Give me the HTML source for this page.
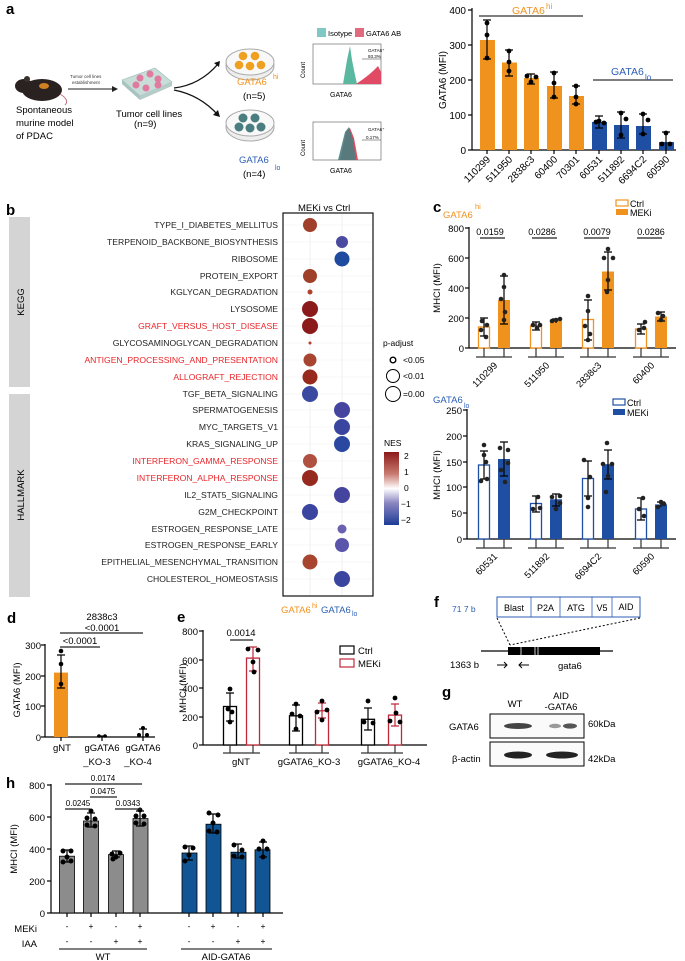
<!DOCTYPE html>
<html><head><meta charset="utf-8"><style>
html,body{margin:0;padding:0;background:#fff;}
svg{display:block;font-family:"Liberation Sans",Arial,sans-serif;}
</style></head><body>
<svg width="685" height="961" viewBox="0 0 685 961" xmlns="http://www.w3.org/2000/svg">
<!-- PANEL A -->
<text x="6" y="14" font-size="15" font-weight="bold">a</text>
<ellipse cx="42" cy="90" rx="20" ry="11" fill="#2a2220"/>
<ellipse cx="24" cy="86" rx="9" ry="7" fill="#2a2220"/>
<circle cx="27" cy="79" r="3" fill="#3a302c"/>
<path d="M60 94 Q70 100 65 105" stroke="#c07080" fill="none" stroke-width="1"/>
<ellipse cx="44" cy="86" rx="5" ry="3" fill="#d08020"/>
<text x="16" y="113" font-size="9.5">Spontaneous</text>
<text x="16" y="126" font-size="9.5">murine model</text>
<text x="16" y="139" font-size="9.5">of PDAC</text>
<text x="70" y="78" font-size="4.5" fill="#333">Tumor cell lines</text>
<text x="72" y="84" font-size="4.5" fill="#333">establishment</text>
<line x1="68" y1="89" x2="112" y2="89" stroke="#222" stroke-width="1"/>
<path d="M112 86 L118 89 L112 92Z" fill="#222"/>
<path d="M122 80 L155 68 L172 82 L140 96Z" fill="#c8dcd8" stroke="#9bb" stroke-width="0.6"/>
<path d="M122 80 L140 96 L140 100 L122 84Z" fill="#a9c4c0"/>
<path d="M140 96 L172 82 L172 86 L140 100Z" fill="#b5ccc8"/>
<circle cx="140" cy="78" r="3.5" fill="#e07aa0"/><circle cx="150" cy="74" r="3.5" fill="#e07aa0"/><circle cx="158" cy="79" r="3.5" fill="#e07aa0"/>
<circle cx="136" cy="85" r="3.5" fill="#e07aa0"/><circle cx="146" cy="88" r="3.5" fill="#e07aa0"/><circle cx="158" cy="85" r="3.5" fill="#e07aa0"/>
<text x="116" y="117" font-size="9.5">Tumor cell lines</text>
<text x="134" y="127" font-size="9.5">(n=9)</text>
<path d="M174 88 Q200 85 218 64" stroke="#111" fill="none" stroke-width="1.3"/>
<path d="M214 63 L220 61 L219 67Z" fill="#111"/>
<path d="M174 90 Q200 95 218 115" stroke="#111" fill="none" stroke-width="1.3"/>
<path d="M213 115 L220 117 L218 110Z" fill="#111"/>
<ellipse cx="250" cy="66" rx="24" ry="14" fill="#eee" stroke="#aaa"/>
<ellipse cx="250" cy="62" rx="24" ry="13" fill="#f8f8f8" stroke="#aaa"/>
<circle cx="243" cy="56" r="4.3" fill="#f0a020"/><circle cx="255" cy="56" r="4.3" fill="#f0a020"/>
<circle cx="239" cy="65" r="4.3" fill="#f0a020"/><circle cx="250" cy="66" r="4.3" fill="#f0a020"/><circle cx="261" cy="65" r="4.3" fill="#f0a020"/>
<text x="237" y="85" font-size="9.5" fill="#f0921e">GATA6</text><text x="273" y="79" font-size="7" fill="#f0921e">hi</text>
<text x="243" y="99" font-size="9.5">(n=5)</text>
<ellipse cx="250" cy="127" rx="24" ry="14" fill="#eee" stroke="#aaa"/>
<ellipse cx="250" cy="123" rx="24" ry="13" fill="#f8f8f8" stroke="#aaa"/>
<circle cx="243" cy="118" r="4.5" fill="#4a7d80"/><circle cx="255" cy="118" r="4.5" fill="#4a7d80"/>
<circle cx="239" cy="127" r="4.5" fill="#4a7d80"/><circle cx="250" cy="128" r="4.5" fill="#4a7d80"/><circle cx="261" cy="127" r="4.5" fill="#4a7d80"/>
<text x="239" y="163" font-size="9.5" fill="#2c5fb5">GATA6</text><text x="275" y="170" font-size="7" fill="#2c5fb5">lo</text>
<text x="243" y="177" font-size="9.5">(n=4)</text>
<rect x="317" y="28" width="9" height="9" fill="#7fc8c4"/><text x="328" y="36" font-size="7.5">Isotype</text>
<rect x="355" y="28" width="9" height="9" fill="#e06a7e"/><text x="366" y="36" font-size="7.5">GATA6 AB</text>
<rect x="313" y="44" width="68" height="40" fill="none" stroke="#555" stroke-width="0.6"/>
<path d="M343 84 L347 60 L350 46 L352 60 L355 75 L357 84Z" fill="#5ab8a0"/>
<path d="M356 84 Q370 75 378 66 L381 72 L381 84Z" fill="#e04a64"/>
<line x1="362" y1="59" x2="381" y2="59" stroke="#333" stroke-width="0.5"/>
<text x="368" y="52" font-size="4.5">GATA6⁺</text><text x="368" y="58" font-size="4.5">93.3%</text>
<text x="305" y="78" font-size="6" transform="rotate(-90 305 78)">Count</text>
<text x="330" y="97" font-size="7">GATA6</text>
<rect x="313" y="122" width="68" height="38" fill="none" stroke="#555" stroke-width="0.6"/>
<path d="M340 160 L346 132 L350 128 L354 138 L358 160Z" fill="#e04a64"/>
<path d="M338 160 L345 132 L349 127 L353 140 L356 160Z" fill="#4a8080" opacity="0.9"/>
<line x1="362" y1="140" x2="381" y2="140" stroke="#333" stroke-width="0.5"/>
<text x="368" y="131" font-size="4.5">GATA6⁺</text><text x="366" y="139" font-size="4.5">0.17%</text>
<text x="305" y="156" font-size="6" transform="rotate(-90 305 156)">Count</text>
<text x="330" y="173" font-size="7">GATA6</text>

<g font-size="10">
<line x1="472" y1="8" x2="472" y2="150" stroke="#000" stroke-width="1.2"/>
<line x1="472" y1="150" x2="676" y2="150" stroke="#000" stroke-width="1.2"/>
<g stroke="#000" stroke-width="1.2"><line x1="468" y1="10" x2="472" y2="10"/><line x1="468" y1="45" x2="472" y2="45"/><line x1="468" y1="80" x2="472" y2="80"/><line x1="468" y1="115" x2="472" y2="115"/><line x1="468" y1="150" x2="472" y2="150"/></g>
<g text-anchor="end"><text x="466" y="14">400</text><text x="466" y="49">300</text><text x="466" y="84">200</text><text x="466" y="119">100</text><text x="466" y="154">0</text></g>
<text x="446" y="80" text-anchor="middle" transform="rotate(-90 446 80)">GATA6 (MFI)</text>
<g fill="#f0921e"><rect x="480" y="40" width="15" height="110"/><rect x="502" y="62.5" width="15" height="87.5"/><rect x="524" y="78" width="15" height="72"/><rect x="547" y="86" width="15" height="64"/><rect x="569" y="96" width="15" height="54"/></g>
<g fill="#1f4fa3"><rect x="592" y="122" width="15" height="28"/><rect x="614" y="125" width="15" height="25"/><rect x="636" y="126" width="15" height="24"/><rect x="659" y="142" width="15" height="8"/></g>
<g stroke="#000" stroke-width="1.2" fill="none">
<path d="M487 20v39M483 20h8M483 59h8"/><path d="M509 50v26M505 50h8M505 76h8"/><path d="M531 74v10M527 74h8M527 84h8"/><path d="M554 72v26M550 72h8M550 98h8"/><path d="M576 86v18M572 86h8M572 104h8"/>
<path d="M599 116v12M595 116h8M595 128h8"/><path d="M621 112v26M617 112h8M617 138h8"/><path d="M643 114v20M639 114h8M639 134h8"/><path d="M666 132v18M662 132h8"/>
</g>
<g fill="#000"><circle cx="487" cy="23" r="2.4"/><circle cx="487" cy="35" r="2.4"/><circle cx="487" cy="58" r="2.4"/><circle cx="509" cy="51" r="2.4"/><circle cx="509" cy="62" r="2.4"/><circle cx="509" cy="71" r="2.4"/><circle cx="527" cy="76" r="2.4"/><circle cx="531" cy="82" r="2.4"/><circle cx="536" cy="77" r="2.4"/><circle cx="554" cy="73" r="2.4"/><circle cx="554" cy="83" r="2.4"/><circle cx="554" cy="97" r="2.4"/><circle cx="576" cy="86" r="2.4"/><circle cx="576" cy="97" r="2.4"/><circle cx="576" cy="104" r="2.4"/><circle cx="596" cy="122" r="2.4"/><circle cx="604" cy="123" r="2.4"/><circle cx="599" cy="121" r="2.4"/><circle cx="621" cy="113" r="2.4"/><circle cx="626" cy="119" r="2.4"/><circle cx="621" cy="135" r="2.4"/><circle cx="643" cy="114" r="2.4"/><circle cx="648" cy="120" r="2.4"/><circle cx="643" cy="134" r="2.4"/><circle cx="666" cy="133" r="2.4"/><circle cx="662" cy="144" r="2.4"/><circle cx="670" cy="144" r="2.4"/></g>
<g stroke="#000" stroke-width="1.2"><line x1="487" y1="150" x2="487" y2="154"/><line x1="509" y1="150" x2="509" y2="154"/><line x1="531" y1="150" x2="531" y2="154"/><line x1="554" y1="150" x2="554" y2="154"/><line x1="576" y1="150" x2="576" y2="154"/><line x1="599" y1="150" x2="599" y2="154"/><line x1="621" y1="150" x2="621" y2="154"/><line x1="643" y1="150" x2="643" y2="154"/><line x1="666" y1="150" x2="666" y2="154"/></g>
<g text-anchor="end">
<text x="491" y="160" transform="rotate(-45 491 160)">110299</text><text x="513" y="160" transform="rotate(-45 513 160)">511950</text><text x="535" y="160" transform="rotate(-45 535 160)">2838c3</text><text x="558" y="160" transform="rotate(-45 558 160)">60400</text><text x="580" y="160" transform="rotate(-45 580 160)">70301</text><text x="603" y="160" transform="rotate(-45 603 160)">60531</text><text x="625" y="160" transform="rotate(-45 625 160)">511892</text><text x="647" y="160" transform="rotate(-45 647 160)">6694C2</text><text x="670" y="160" transform="rotate(-45 670 160)">60590</text>
</g>
<line x1="479" y1="16" x2="583" y2="16" stroke="#333" stroke-width="1.2"/>
<text x="512" y="14" fill="#f0921e" font-size="10.5">GATA6</text><text x="546" y="9" fill="#f0921e" font-size="8">hi</text>
<line x1="593" y1="80" x2="673" y2="80" stroke="#333" stroke-width="1.2"/>
<text x="611" y="75" fill="#2c5fb5" font-size="10.5">GATA6</text><text x="645" y="80" fill="#2c5fb5" font-size="8">lo</text>
</g>

<!-- PANEL B -->
<text x="6" y="215" font-size="15" font-weight="bold">b</text>
<text x="298" y="211" font-size="9.5">MEKi vs Ctrl</text>
<rect x="9" y="217" width="21" height="170" fill="#d4d4d4"/>
<rect x="9" y="394" width="21" height="203" fill="#d4d4d4"/>
<text x="24" y="302" font-size="9.5" text-anchor="middle" transform="rotate(-90 24 302)">KEGG</text>
<text x="24" y="495" font-size="9.5" text-anchor="middle" transform="rotate(-90 24 495)">HALLMARK</text>
<g stroke="#ebebeb" stroke-width="0.8">
<line x1="310" y1="214" x2="310" y2="595"/><line x1="342" y1="214" x2="342" y2="595"/>
</g>
<g stroke="#efefef" stroke-width="0.6">
<line x1="283" y1="225" x2="373" y2="225"/><line x1="283" y1="242" x2="373" y2="242"/><line x1="283" y1="259" x2="373" y2="259"/><line x1="283" y1="276" x2="373" y2="276"/><line x1="283" y1="292" x2="373" y2="292"/><line x1="283" y1="309" x2="373" y2="309"/><line x1="283" y1="326" x2="373" y2="326"/><line x1="283" y1="343" x2="373" y2="343"/><line x1="283" y1="360" x2="373" y2="360"/><line x1="283" y1="377" x2="373" y2="377"/><line x1="283" y1="394" x2="373" y2="394"/><line x1="283" y1="410" x2="373" y2="410"/><line x1="283" y1="427" x2="373" y2="427"/><line x1="283" y1="444" x2="373" y2="444"/><line x1="283" y1="461" x2="373" y2="461"/><line x1="283" y1="478" x2="373" y2="478"/><line x1="283" y1="495" x2="373" y2="495"/><line x1="283" y1="512" x2="373" y2="512"/><line x1="283" y1="529" x2="373" y2="529"/><line x1="283" y1="545" x2="373" y2="545"/><line x1="283" y1="562" x2="373" y2="562"/><line x1="283" y1="579" x2="373" y2="579"/>
</g>
<rect x="283" y="213" width="90" height="383" fill="none" stroke="#111" stroke-width="1.2"/>
<g font-size="8.6" text-anchor="end" fill="#222">
<text x="278" y="228">TYPE_I_DIABETES_MELLITUS</text>
<text x="278" y="245">TERPENOID_BACKBONE_BIOSYNTHESIS</text>
<text x="278" y="262">RIBOSOME</text>
<text x="278" y="279">PROTEIN_EXPORT</text>
<text x="278" y="295">KGLYCAN_DEGRADATION</text>
<text x="278" y="312">LYSOSOME</text>
<text x="278" y="329" fill="#e8262a">GRAFT_VERSUS_HOST_DISEASE</text>
<text x="278" y="346">GLYCOSAMINOGLYCAN_DEGRADATION</text>
<text x="278" y="363" fill="#e8262a">ANTIGEN_PROCESSING_AND_PRESENTATION</text>
<text x="278" y="380" fill="#e8262a">ALLOGRAFT_REJECTION</text>
<text x="278" y="397">TGF_BETA_SIGNALING</text>
<text x="278" y="413">SPERMATOGENESIS</text>
<text x="278" y="430">MYC_TARGETS_V1</text>
<text x="278" y="447">KRAS_SIGNALING_UP</text>
<text x="278" y="464" fill="#e8262a">INTERFERON_GAMMA_RESPONSE</text>
<text x="278" y="481" fill="#e8262a">INTERFERON_ALPHA_RESPONSE</text>
<text x="278" y="498">IL2_STAT5_SIGNALING</text>
<text x="278" y="515">G2M_CHECKPOINT</text>
<text x="278" y="532">ESTROGEN_RESPONSE_LATE</text>
<text x="278" y="548">ESTROGEN_RESPONSE_EARLY</text>
<text x="278" y="565">EPITHELIAL_MESENCHYMAL_TRANSITION</text>
<text x="278" y="582">CHOLESTEROL_HOMEOSTASIS</text>
</g>
<circle cx="310" cy="225" r="7" fill="#a0402a"/>
<circle cx="342" cy="242" r="6" fill="#4a4aa0"/>
<circle cx="342" cy="259" r="7.5" fill="#1e4aa0"/>
<circle cx="310" cy="276" r="7" fill="#a0402a"/>
<circle cx="310" cy="292" r="2.5" fill="#b04030"/>
<circle cx="310" cy="309" r="8" fill="#8b1a1a"/>
<circle cx="310" cy="326" r="8" fill="#8b1a1a"/>
<circle cx="310" cy="343" r="1.5" fill="#b04030"/>
<circle cx="310" cy="360" r="6.5" fill="#a84530"/>
<circle cx="310" cy="377" r="7.5" fill="#962a1e"/>
<circle cx="310" cy="394" r="8" fill="#3a4aa0"/>
<circle cx="342" cy="410" r="8" fill="#4545a0"/>
<circle cx="342" cy="427" r="8" fill="#3a45a0"/>
<circle cx="342" cy="444" r="8" fill="#2a48a0"/>
<circle cx="310" cy="461" r="7" fill="#b05040"/>
<circle cx="310" cy="478" r="8" fill="#962a1e"/>
<circle cx="342" cy="495" r="8" fill="#4545a0"/>
<circle cx="310" cy="512" r="8" fill="#3a45a0"/>
<circle cx="342" cy="529" r="4.5" fill="#6a60b0"/>
<circle cx="342" cy="545" r="7" fill="#5a55aa"/>
<circle cx="310" cy="562" r="7.5" fill="#a84530"/>
<circle cx="342" cy="579" r="8" fill="#3a45a0"/>
<text x="281" y="613" font-size="9.5" fill="#f0921e">GATA6</text><text x="312" y="608" font-size="7" fill="#f0921e">hi</text>
<text x="321" y="613" font-size="9.5" fill="#2c5fb5">GATA6</text><text x="352" y="616" font-size="7" fill="#2c5fb5">lo</text>
<text x="383" y="346" font-size="8.5">p-adjust</text>
<circle cx="393" cy="360" r="2.8" fill="none" stroke="#000" stroke-width="1.4"/><text x="403" y="363" font-size="8.5">&lt;0.05</text>
<circle cx="393" cy="376" r="6.5" fill="none" stroke="#000" stroke-width="1"/><text x="403" y="379" font-size="8.5">&lt;0.01</text>
<circle cx="393" cy="394" r="7.5" fill="none" stroke="#000" stroke-width="1"/><text x="403" y="397" font-size="8.5">=0.00</text>
<text x="384" y="446" font-size="8.5">NES</text>
<defs><linearGradient id="nes" x1="0" y1="0" x2="0" y2="1">
<stop offset="0" stop-color="#8b1a1a"/><stop offset="0.3" stop-color="#c87a70"/><stop offset="0.5" stop-color="#ffffff"/><stop offset="0.7" stop-color="#8a85c0"/><stop offset="1" stop-color="#1e3c96"/></linearGradient></defs>
<rect x="384" y="452" width="15" height="73" fill="url(#nes)"/>
<g font-size="8.5"><text x="404" y="459">2</text><text x="404" y="475">1</text><text x="404" y="491">0</text><text x="401" y="507">−1</text><text x="401" y="523">−2</text></g>

<!-- PANEL C top -->
<text x="433" y="212" font-size="15" font-weight="bold">c</text>
<text x="443" y="218" font-size="9.5" fill="#f0921e">GATA6</text><text x="475" y="209" font-size="7.5" fill="#f0921e">hi</text>
<rect x="616" y="200" width="12" height="6" fill="none" stroke="#f0921e" stroke-width="1.2"/><text x="630" y="207" font-size="9">Ctrl</text>
<rect x="616" y="209" width="12" height="6" fill="#f0921e"/><text x="630" y="216" font-size="9">MEKi</text>
<g font-size="9.5">
<line x1="469" y1="227" x2="469" y2="348" stroke="#000" stroke-width="1.2"/>
<line x1="469" y1="348" x2="676" y2="348" stroke="#000" stroke-width="1.2"/>
<g stroke="#000" stroke-width="1.2"><line x1="465" y1="228" x2="469" y2="228"/><line x1="465" y1="258" x2="469" y2="258"/><line x1="465" y1="288" x2="469" y2="288"/><line x1="465" y1="318" x2="469" y2="318"/><line x1="465" y1="348" x2="469" y2="348"/></g>
<g text-anchor="end"><text x="464" y="232">800</text><text x="464" y="262">600</text><text x="464" y="292">400</text><text x="464" y="322">200</text><text x="464" y="352">0</text></g>
<text x="440" y="288" text-anchor="middle" transform="rotate(-90 440 288)">MHCI (MFI)</text>
<g fill="#fff" stroke="#f0921e" stroke-width="1.3"><rect x="478.5" y="327" width="11" height="21"/><rect x="530.5" y="326" width="11" height="22"/><rect x="582.5" y="319.5" width="11" height="28.5"/><rect x="635.5" y="329" width="11" height="19"/></g>
<g fill="#f0921e"><rect x="498" y="300" width="12" height="48"/><rect x="550" y="321" width="12" height="27"/><rect x="602" y="271.5" width="12" height="76.5"/><rect x="655" y="316.5" width="12" height="31.5"/></g>
<g stroke="#000" stroke-width="1.2" fill="none">
<path d="M484 318v18M480 318h8M480 336h8"/><path d="M504 276v48M500 276h8M500 324h8"/><path d="M536 322v8M532 322h8M532 330h8"/><path d="M556 319v4M552 319h8"/><path d="M588 300v40M584 300h8M584 340h8"/><path d="M608 252v38M604 252h8M604 290h8"/><path d="M641 324v10M637 324h8M637 334h8"/><path d="M661 312v9M657 312h8M657 321h8"/>
</g>
<g fill="#222"><circle cx="482" cy="321" r="2.3"/><circle cx="487" cy="325" r="2.3"/><circle cx="481" cy="330" r="2.3"/><circle cx="486" cy="337" r="2.3"/><circle cx="504" cy="275" r="2.3"/><circle cx="504" cy="287" r="2.3"/><circle cx="501" cy="299" r="2.3"/><circle cx="505" cy="312" r="2.3"/><circle cx="504" cy="320" r="2.3"/><circle cx="533" cy="325" r="2.3"/><circle cx="537" cy="328" r="2.3"/><circle cx="540" cy="325" r="2.3"/><circle cx="552" cy="321" r="2.3"/><circle cx="556" cy="320" r="2.3"/><circle cx="560" cy="319" r="2.3"/><circle cx="588" cy="296" r="2.3"/><circle cx="588" cy="311" r="2.3"/><circle cx="585" cy="326" r="2.3"/><circle cx="590" cy="334" r="2.3"/><circle cx="588" cy="340" r="2.3"/><circle cx="608" cy="249" r="2.3"/><circle cx="613" cy="258" r="2.3"/><circle cx="604" cy="258" r="2.3"/><circle cx="608" cy="280" r="2.3"/><circle cx="607" cy="292" r="2.3"/><circle cx="639" cy="330" r="2.3"/><circle cx="644" cy="328" r="2.3"/><circle cx="645" cy="322" r="2.3"/><circle cx="658" cy="313" r="2.3"/><circle cx="663" cy="316" r="2.3"/><circle cx="661" cy="320" r="2.3"/></g>
<g stroke="#222" stroke-width="1.2"><line x1="480" y1="238" x2="505" y2="238"/><line x1="532" y1="238" x2="557" y2="238"/><line x1="584" y1="238" x2="609" y2="238"/><line x1="637" y1="238" x2="662" y2="238"/></g>
<g font-size="9" text-anchor="middle"><text x="490" y="235">0.0159</text><text x="542" y="235">0.0286</text><text x="597" y="235">0.0079</text><text x="651" y="235">0.0286</text></g>
<g stroke="#333" stroke-width="1.2"><path d="M476 357h36M484 348v9M504 348v9"/><path d="M528 357h36M536 348v9M556 348v9"/><path d="M580 357h36M588 348v9M608 348v9"/><path d="M633 357h36M641 348v9M661 348v9"/></g>
<g text-anchor="end"><text x="498" y="366" transform="rotate(-45 498 366)">110299</text><text x="550" y="366" transform="rotate(-45 550 366)">511950</text><text x="602" y="366" transform="rotate(-45 602 366)">2838c3</text><text x="655" y="366" transform="rotate(-45 655 366)">60400</text></g>
</g>

<!-- PANEL C bottom -->
<text x="433" y="403" font-size="9.5" fill="#2c5fb5">GATA6</text><text x="464" y="408" font-size="7" fill="#2c5fb5">lo</text>
<rect x="613" y="399" width="12" height="6" fill="none" stroke="#1f4fa3" stroke-width="1.2"/><text x="627" y="406" font-size="9">Ctrl</text>
<rect x="613" y="409" width="12" height="6" fill="#1f4fa3"/><text x="627" y="416" font-size="9">MEKi</text>
<g font-size="9.5">
<line x1="467" y1="409" x2="467" y2="539" stroke="#000" stroke-width="1.2"/>
<line x1="467" y1="539" x2="676" y2="539" stroke="#000" stroke-width="1.2"/>
<g stroke="#000" stroke-width="1.2"><line x1="463" y1="410" x2="467" y2="410"/><line x1="463" y1="436" x2="467" y2="436"/><line x1="463" y1="462" x2="467" y2="462"/><line x1="463" y1="487" x2="467" y2="487"/><line x1="463" y1="513" x2="467" y2="513"/><line x1="463" y1="539" x2="467" y2="539"/></g>
<g text-anchor="end"><text x="462" y="414">250</text><text x="462" y="440">200</text><text x="462" y="466">150</text><text x="462" y="491">100</text><text x="462" y="517">50</text><text x="462" y="543">0</text></g>
<text x="440" y="475" text-anchor="middle" transform="rotate(-90 440 475)">MHCI (MFI)</text>
<g fill="#fff" stroke="#1f4fa3" stroke-width="1.3"><rect x="478.5" y="465" width="11" height="74"/><rect x="530.5" y="503.5" width="11" height="35.5"/><rect x="582.5" y="478.5" width="11" height="60.5"/><rect x="635.5" y="509" width="11" height="30"/></g>
<g fill="#1f4fa3"><rect x="498" y="459" width="12" height="80"/><rect x="550" y="499.3" width="12" height="39.7"/><rect x="602" y="464.2" width="12" height="74.8"/><rect x="655" y="504.4" width="12" height="34.6"/></g>
<g stroke="#000" stroke-width="1.2" fill="none">
<path d="M484 451v28M480 451h8M480 479h8"/><path d="M504 442v34M500 442h8M500 476h8"/><path d="M536 496v16M532 496h8M532 512h8"/><path d="M556 494v12M552 494h8M552 506h8"/><path d="M588 461v35M584 461h8M584 496h8"/><path d="M608 450v29M604 450h8M604 479h8"/><path d="M641 498v22M637 498h8M637 520h8"/><path d="M661 502v5M657 502h8"/></g>
<g fill="#222"><circle cx="484" cy="445" r="2.3"/><circle cx="484" cy="455" r="2.3"/><circle cx="486" cy="462" r="2.3"/><circle cx="481" cy="481" r="2.3"/><circle cx="487" cy="479" r="2.3"/><circle cx="500" cy="448" r="2.3"/><circle cx="508" cy="450" r="2.3"/><circle cx="508" cy="463" r="2.3"/><circle cx="501" cy="470" r="2.3"/><circle cx="505" cy="482" r="2.3"/><circle cx="533" cy="509" r="2.3"/><circle cx="538" cy="497" r="2.3"/><circle cx="540" cy="508" r="2.3"/><circle cx="552" cy="497" r="2.3"/><circle cx="560" cy="496" r="2.3"/><circle cx="560" cy="503" r="2.3"/><circle cx="556" cy="509" r="2.3"/><circle cx="584" cy="460" r="2.3"/><circle cx="590" cy="477" r="2.3"/><circle cx="588" cy="498" r="2.3"/><circle cx="588" cy="507" r="2.3"/><circle cx="607" cy="443" r="2.3"/><circle cx="603" cy="464" r="2.3"/><circle cx="612" cy="464" r="2.3"/><circle cx="608" cy="476" r="2.3"/><circle cx="606" cy="492" r="2.3"/><circle cx="639" cy="509" r="2.3"/><circle cx="643" cy="498" r="2.3"/><circle cx="644" cy="516" r="2.3"/><circle cx="658" cy="507" r="2.3"/><circle cx="664" cy="504" r="2.3"/><circle cx="661" cy="502" r="2.3"/></g>
<g stroke="#333" stroke-width="1.2"><path d="M476 548h36M484 539v9M504 539v9"/><path d="M528 548h36M536 539v9M556 539v9"/><path d="M580 548h36M588 539v9M608 539v9"/><path d="M633 548h36M641 539v9M661 539v9"/></g>
<g text-anchor="end"><text x="498" y="557" transform="rotate(-45 498 557)">60531</text><text x="550" y="557" transform="rotate(-45 550 557)">511892</text><text x="602" y="557" transform="rotate(-45 602 557)">6694C2</text><text x="655" y="557" transform="rotate(-45 655 557)">60590</text></g>
</g>

<!-- PANEL D -->
<text x="7" y="623" font-size="15" font-weight="bold">d</text>
<g font-size="9.5">
<line x1="45" y1="644" x2="45" y2="737" stroke="#000" stroke-width="1.2"/>
<line x1="45" y1="737" x2="155" y2="737" stroke="#000" stroke-width="1.2"/>
<g stroke="#000" stroke-width="1.2"><line x1="41" y1="645" x2="45" y2="645"/><line x1="41" y1="676" x2="45" y2="676"/><line x1="41" y1="706" x2="45" y2="706"/><line x1="41" y1="737" x2="45" y2="737"/></g>
<g text-anchor="end"><text x="41" y="649">300</text><text x="41" y="680">200</text><text x="41" y="710">100</text><text x="41" y="741">0</text></g>
<text x="20" y="690" text-anchor="middle" transform="rotate(-90 20 690)">GATA6 (MFI)</text>
<rect x="54" y="672.6" width="14" height="64.4" fill="#f0921e"/>
<path d="M61 655v33M57 655h8M57 688h8" stroke="#000" stroke-width="1.2" fill="none"/>
<circle cx="61" cy="651" r="2.3"/><circle cx="61" cy="664" r="2.3"/><circle cx="61" cy="684" r="2.3"/>
<path d="M97 736h10" stroke="#000" stroke-width="1.2"/><circle cx="99" cy="736" r="1.7"/><circle cx="105" cy="736" r="1.7"/>
<path d="M143 729v8M139 729h8" stroke="#000" stroke-width="1.2" fill="none"/><circle cx="139" cy="735" r="2"/><circle cx="147" cy="735" r="2"/><circle cx="143" cy="728" r="2"/>
<g stroke="#000" stroke-width="1.2"><line x1="61" y1="737" x2="61" y2="741"/><line x1="102" y1="737" x2="102" y2="741"/><line x1="143" y1="737" x2="143" y2="741"/></g>
<g text-anchor="middle"><text x="62" y="751">gNT</text><text x="102" y="751">gGATA6</text><text x="97" y="765">_KO-3</text><text x="143" y="751">gGATA6</text><text x="138" y="765">_KO-4</text></g>
<line x1="60" y1="647" x2="100" y2="647" stroke="#222" stroke-width="1.2"/>
<text x="80" y="644" text-anchor="middle">&lt;0.0001</text>
<line x1="60" y1="633" x2="143" y2="633" stroke="#222" stroke-width="1.2"/>
<text x="102" y="631" text-anchor="middle">&lt;0.0001</text>
<text x="102" y="620" text-anchor="middle">2838c3</text>
</g>

<!-- PANEL E -->
<text x="177" y="622" font-size="15" font-weight="bold">e</text>
<g font-size="9.5">
<line x1="203" y1="630" x2="203" y2="745" stroke="#000" stroke-width="1.2"/>
<line x1="203" y1="745" x2="427" y2="745" stroke="#000" stroke-width="1.2"/>
<g stroke="#000" stroke-width="1.2"><line x1="199" y1="631" x2="203" y2="631"/><line x1="199" y1="660" x2="203" y2="660"/><line x1="199" y1="688" x2="203" y2="688"/><line x1="199" y1="717" x2="203" y2="717"/><line x1="199" y1="745" x2="203" y2="745"/></g>
<g text-anchor="end"><text x="198" y="635">800</text><text x="198" y="664">600</text><text x="198" y="692">400</text><text x="198" y="721">200</text><text x="198" y="749">0</text></g>
<text x="186" y="688" text-anchor="middle" transform="rotate(-90 186 688)">MHCI (MFI)</text>
<g fill="#fff" stroke="#000" stroke-width="1.3"><rect x="223.5" y="706.5" width="13" height="38.5"/><rect x="289.5" y="715.8" width="13" height="29.2"/><rect x="361.5" y="719.3" width="13" height="25.7"/></g>
<g fill="#fff" stroke="#c0283a" stroke-width="1.3"><rect x="246.5" y="658.1" width="13" height="86.9"/><rect x="315.5" y="710.8" width="13" height="34.2"/><rect x="388.5" y="715.1" width="13" height="29.9"/></g>
<g stroke="#000" stroke-width="1.2" fill="none"><path d="M230 693v28M226 693h8M226 721h8"/><path d="M296 705v26M292 705h8M292 731h8"/><path d="M368 708v22M364 708h8M364 730h8"/></g>
<g stroke="#c0283a" stroke-width="1.2" fill="none"><path d="M253 647v24M249 647h8M249 671h8"/><path d="M322 703v15M318 703h8M318 718h8"/><path d="M395 704v22M391 704h8M391 726h8"/></g>
<g fill="#000"><circle cx="230" cy="689" r="2.4"/><circle cx="228" cy="709" r="2.4"/><circle cx="232" cy="712" r="2.4"/><circle cx="230" cy="722" r="2.4"/><circle cx="248" cy="649" r="2.4"/><circle cx="258" cy="650" r="2.4"/><circle cx="253" cy="662" r="2.4"/><circle cx="254" cy="672" r="2.4"/><circle cx="296" cy="704" r="2.4"/><circle cx="292" cy="714" r="2.4"/><circle cx="300" cy="716" r="2.4"/><circle cx="296" cy="729" r="2.4"/><circle cx="322" cy="701" r="2.4"/><circle cx="317" cy="712" r="2.4"/><circle cx="327" cy="710" r="2.4"/><circle cx="322" cy="720" r="2.4"/><circle cx="368" cy="701" r="2.4"/><circle cx="364" cy="722" r="2.4"/><circle cx="373" cy="723" r="2.4"/><circle cx="395" cy="698" r="2.4"/><circle cx="390" cy="721" r="2.4"/><circle cx="400" cy="722" r="2.4"/><circle cx="396" cy="713" r="2.4"/></g>
<line x1="230" y1="640" x2="253" y2="640" stroke="#222" stroke-width="1.2"/>
<text x="241" y="636" text-anchor="middle">0.0014</text>
<rect x="340" y="646" width="14" height="8" fill="none" stroke="#000" stroke-width="1.2"/><text x="358" y="654">Ctrl</text>
<rect x="340" y="659" width="14" height="8" fill="none" stroke="#c0283a" stroke-width="1.2"/><text x="358" y="667">MEKi</text>
<g stroke="#333" stroke-width="1.2"><path d="M223 753h37M230 745v8M253 745v8"/><path d="M289 753h40M296 745v8M322 745v8"/><path d="M361 753h42M368 745v8M395 745v8"/></g>
<g text-anchor="middle"><text x="241" y="765">gNT</text><text x="309" y="765">gGATA6_KO-3</text><text x="389" y="765">gGATA6_KO-4</text></g>
</g>

<!-- PANEL F -->
<text x="434" y="607" font-size="15" font-weight="bold">f</text>
<text x="452" y="612" font-size="8.5" fill="#2c5fb5">71 7 b</text>
<rect x="497" y="597" width="143" height="20" fill="#fff" stroke="#2c5fb5" stroke-width="1"/>
<g stroke="#2c5fb5" stroke-width="0.8"><line x1="531" y1="597" x2="531" y2="617"/><line x1="560" y1="597" x2="560" y2="617"/><line x1="592" y1="597" x2="592" y2="617"/><line x1="612" y1="597" x2="612" y2="617"/></g>
<g font-size="9" text-anchor="middle"><text x="514" y="611">Blast</text><text x="545.5" y="611">P2A</text><text x="576" y="611">ATG</text><text x="602" y="611">V5</text><text x="626" y="610">AID</text></g>
<g stroke="#000" stroke-width="1" stroke-dasharray="2,2"><line x1="497" y1="618" x2="510" y2="645"/><line x1="640" y1="618" x2="510" y2="645"/></g>
<line x1="481" y1="651" x2="613" y2="651" stroke="#000" stroke-width="1.2"/>
<rect x="508" y="647" width="92" height="8" fill="#000"/>
<g stroke="#fff" stroke-width="0.8"><line x1="521" y1="647" x2="521" y2="655"/><line x1="535" y1="647" x2="535" y2="655"/><line x1="538" y1="647" x2="538" y2="655"/></g>
<text x="450" y="668" font-size="9.5">1363 b</text>
<path d="M497 665h10M504 662l3 3l-3 3" stroke="#000" fill="none"/>
<path d="M519 665h10M522 662l-3 3l3 3" stroke="#000" fill="none"/>
<text x="558" y="669" font-size="9.5">gata6</text>

<!-- PANEL G -->
<text x="442" y="697" font-size="15" font-weight="bold">g</text>
<text x="515" y="707" font-size="9.5" text-anchor="middle">WT</text>
<text x="561" y="699" font-size="9.5" text-anchor="middle">AID</text>
<text x="561" y="710" font-size="9.5" text-anchor="middle">-GATA6</text>
<rect x="490" y="714" width="94" height="24" fill="#fafafa" stroke="#000" stroke-width="1"/>
<ellipse cx="518" cy="726" rx="14" ry="3" fill="#444"/>
<ellipse cx="555" cy="726" rx="6" ry="2.2" fill="#999"/><ellipse cx="570" cy="726" rx="7" ry="2.6" fill="#555"/>
<rect x="490" y="742" width="94" height="24" fill="#fafafa" stroke="#000" stroke-width="1"/>
<ellipse cx="518" cy="755" rx="14" ry="3.5" fill="#222"/><ellipse cx="562" cy="755" rx="16" ry="3.5" fill="#222"/>
<text x="449" y="730" font-size="9.5">GATA6</text>
<text x="452" y="762" font-size="9.5">β-actin</text>
<text x="588" y="727" font-size="9.5">60kDa</text>
<text x="588" y="762" font-size="9.5">42kDa</text>

<!-- PANEL H -->
<text x="6" y="788" font-size="15" font-weight="bold">h</text>
<g font-size="9.5">
<line x1="51" y1="784" x2="51" y2="913" stroke="#000" stroke-width="1.2"/>
<line x1="51" y1="913" x2="283" y2="913" stroke="#000" stroke-width="1.2"/>
<g stroke="#000" stroke-width="1.2"><line x1="47" y1="785" x2="51" y2="785"/><line x1="47" y1="817" x2="51" y2="817"/><line x1="47" y1="849" x2="51" y2="849"/><line x1="47" y1="881" x2="51" y2="881"/><line x1="47" y1="913" x2="51" y2="913"/></g>
<g text-anchor="end"><text x="45" y="789">800</text><text x="45" y="821">600</text><text x="45" y="853">400</text><text x="45" y="885">200</text><text x="45" y="917">0</text></g>
<text x="17" y="849" text-anchor="middle" transform="rotate(-90 17 849)">MHCI (MFI)</text>
<g fill="#8c8c8c" stroke="#000" stroke-width="0.8"><rect x="59.5" y="856.2" width="15" height="56.8"/><rect x="83.5" y="821" width="15" height="92"/><rect x="108.5" y="854.6" width="15" height="58.4"/><rect x="133" y="818.6" width="15" height="94.4"/></g>
<g fill="#125594" stroke="#000" stroke-width="0.8"><rect x="182" y="853" width="15" height="60"/><rect x="206" y="824.2" width="15" height="88.8"/><rect x="231" y="852.2" width="15" height="60.8"/><rect x="255" y="849.8" width="15" height="63.2"/></g>
<g stroke="#000" stroke-width="1.2" fill="none"><path d="M67 850v12M63 850h8M63 862h8"/><path d="M91 813v14M87 813h8M87 827h8"/><path d="M116 851v6M112 851h8M112 857h8"/><path d="M140 811v15M136 811h8M136 826h8"/><path d="M189 846v14M185 846h8M185 860h8"/><path d="M213 814v19M209 814h8M209 833h8"/><path d="M238 844v14M234 844h8M234 858h8"/><path d="M263 842v15M259 842h8M259 857h8"/></g>
<g fill="#000">
<circle cx="63" cy="851" r="2.5"/><circle cx="71" cy="851" r="2.5"/><circle cx="67" cy="857" r="2.5"/><circle cx="63" cy="862" r="2.5"/><circle cx="71" cy="861" r="2.5"/>
<circle cx="91" cy="811" r="2.5"/><circle cx="87" cy="818" r="2.5"/><circle cx="95" cy="819" r="2.5"/><circle cx="87" cy="825" r="2.5"/><circle cx="95" cy="826" r="2.5"/>
<circle cx="112" cy="854" r="2.5"/><circle cx="120" cy="853" r="2.5"/><circle cx="116" cy="857" r="2.5"/><circle cx="113" cy="859" r="2.5"/>
<circle cx="140" cy="810" r="2.5"/><circle cx="136" cy="816" r="2.5"/><circle cx="144" cy="816" r="2.5"/><circle cx="136" cy="823" r="2.5"/><circle cx="144" cy="824" r="2.5"/>
<circle cx="185" cy="847" r="2.5"/><circle cx="193" cy="848" r="2.5"/><circle cx="189" cy="855" r="2.5"/><circle cx="185" cy="861" r="2.5"/>
<circle cx="209" cy="813" r="2.5"/><circle cx="218" cy="815" r="2.5"/><circle cx="213" cy="823" r="2.5"/><circle cx="209" cy="831" r="2.5"/><circle cx="217" cy="832" r="2.5"/>
<circle cx="234" cy="845" r="2.5"/><circle cx="242" cy="850" r="2.5"/><circle cx="234" cy="856" r="2.5"/><circle cx="242" cy="857" r="2.5"/>
<circle cx="263" cy="841" r="2.5"/><circle cx="259" cy="849" r="2.5"/><circle cx="267" cy="849" r="2.5"/><circle cx="263" cy="857" r="2.5"/>
</g>
<g stroke="#222" stroke-width="1.2"><line x1="65" y1="809" x2="90" y2="809"/><line x1="90" y1="797" x2="117" y2="797"/><line x1="115" y1="809" x2="142" y2="809"/><line x1="65" y1="784" x2="142" y2="784"/></g>
<g font-size="8" text-anchor="middle"><text x="78" y="806">0.0245</text><text x="103" y="794">0.0475</text><text x="128" y="806">0.0343</text><text x="103" y="781">0.0174</text></g>
<g stroke="#000" stroke-width="1.2"><line x1="67" y1="913" x2="67" y2="917"/><line x1="91" y1="913" x2="91" y2="917"/><line x1="116" y1="913" x2="116" y2="917"/><line x1="140" y1="913" x2="140" y2="917"/><line x1="189" y1="913" x2="189" y2="917"/><line x1="213" y1="913" x2="213" y2="917"/><line x1="238" y1="913" x2="238" y2="917"/><line x1="263" y1="913" x2="263" y2="917"/></g>
<g font-size="8.5" text-anchor="middle"><text x="67" y="929">-</text><text x="91" y="929">+</text><text x="116" y="929">-</text><text x="140" y="929">+</text><text x="189" y="929">-</text><text x="213" y="929">+</text><text x="238" y="929">-</text><text x="263" y="929">+</text>
<text x="67" y="944">-</text><text x="91" y="944">-</text><text x="116" y="944">+</text><text x="140" y="944">+</text><text x="189" y="944">-</text><text x="213" y="944">-</text><text x="238" y="944">+</text><text x="263" y="944">+</text></g>
<text x="37" y="932" text-anchor="end">MEKi</text>
<text x="37" y="947" text-anchor="end">IAA</text>
<line x1="59" y1="949" x2="147" y2="949" stroke="#000" stroke-width="1"/>
<line x1="181" y1="949" x2="272" y2="949" stroke="#000" stroke-width="1"/>
<text x="103" y="960" text-anchor="middle">WT</text>
<text x="226" y="960" text-anchor="middle">AID-GATA6</text>
</g>
</svg>
</body></html>
